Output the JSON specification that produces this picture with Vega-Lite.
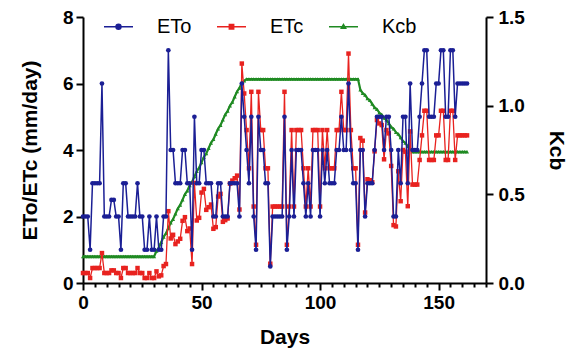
{
  "$schema": "https://vega.github.io/schema/vega-lite/v6.json",
  "width": 403,
  "height": 266,
  "autosize": {"type": "none"},
  "padding": {"left": 83, "top": 17, "right": 90, "bottom": 69},
  "background": "white",
  "config": {
    "view": {"stroke": null},
    "font": "Liberation Sans",
    "axis": {
      "domainColor": "#000", "domainWidth": 2, "tickColor": "#000", "tickWidth": 2, "tickSize": 7,
      "labelColor": "#000", "labelFont": "Liberation Sans", "labelFontWeight": "bold", "labelFontSize": 19, "labelPadding": 3,
      "titleColor": "#000", "titleFont": "Liberation Sans", "titleFontWeight": "bold", "titleFontSize": 21, "grid": false
    }
  },
  "data": {"values": [
    {"d":0,"eto":2,"etc":0.3,"kcb":0.15},{"d":1,"eto":2,"etc":0.3,"kcb":0.15},{"d":2,"eto":2,"etc":0.3,"kcb":0.15},{"d":3,"eto":1,"etc":0.15,"kcb":0.15},{"d":4,"eto":3,"etc":0.45,"kcb":0.15},{"d":5,"eto":3,"etc":0.45,"kcb":0.15},{"d":6,"eto":3,"etc":0.45,"kcb":0.15},{"d":7,"eto":3,"etc":0.45,"kcb":0.15},{"d":8,"eto":6,"etc":0.9,"kcb":0.15},{"d":9,"eto":2,"etc":0.3,"kcb":0.15},
    {"d":10,"eto":2,"etc":0.3,"kcb":0.15},{"d":11,"eto":2,"etc":0.3,"kcb":0.15},{"d":12,"eto":2.5,"etc":0.38,"kcb":0.15},{"d":13,"eto":2.5,"etc":0.38,"kcb":0.15},{"d":14,"eto":2,"etc":0.3,"kcb":0.15},{"d":15,"eto":2,"etc":0.3,"kcb":0.15},{"d":16,"eto":1,"etc":0.15,"kcb":0.15},{"d":17,"eto":3,"etc":0.45,"kcb":0.15},{"d":18,"eto":3,"etc":0.45,"kcb":0.15},{"d":19,"eto":2,"etc":0.3,"kcb":0.15},
    {"d":20,"eto":2,"etc":0.3,"kcb":0.15},{"d":21,"eto":2,"etc":0.3,"kcb":0.15},{"d":22,"eto":2,"etc":0.3,"kcb":0.15},{"d":23,"eto":3,"etc":0.45,"kcb":0.15},{"d":24,"eto":2,"etc":0.3,"kcb":0.15},{"d":25,"eto":2,"etc":0.3,"kcb":0.15},{"d":26,"eto":1,"etc":0.15,"kcb":0.15},{"d":27,"eto":1,"etc":0.15,"kcb":0.15},{"d":28,"eto":2,"etc":0.3,"kcb":0.15},{"d":29,"eto":1,"etc":0.15,"kcb":0.15},
    {"d":30,"eto":1,"etc":0.15,"kcb":0.15},{"d":31,"eto":2,"etc":0.35,"kcb":0.18},{"d":32,"eto":1,"etc":0.2,"kcb":0.2},{"d":33,"eto":1,"etc":0.23,"kcb":0.23},{"d":34,"eto":2,"etc":0.51,"kcb":0.26},{"d":35,"eto":2,"etc":0.57,"kcb":0.28},{"d":36,"eto":7,"etc":2.16,"kcb":0.31},{"d":37,"eto":4,"etc":1.34,"kcb":0.34},{"d":38,"eto":4,"etc":1.45,"kcb":0.36},{"d":39,"eto":3,"etc":1.17,"kcb":0.39},
    {"d":40,"eto":3,"etc":1.25,"kcb":0.42},{"d":41,"eto":3,"etc":1.33,"kcb":0.44},{"d":42,"eto":4,"etc":1.87,"kcb":0.47},{"d":43,"eto":4,"etc":1.98,"kcb":0.5},{"d":44,"eto":3,"etc":1.56,"kcb":0.52},{"d":45,"eto":3,"etc":1.64,"kcb":0.55},{"d":46,"eto":1,"etc":0.57,"kcb":0.57},{"d":47,"eto":5,"etc":3.01,"kcb":0.6},{"d":48,"eto":3,"etc":1.88,"kcb":0.63},{"d":49,"eto":3,"etc":1.96,"kcb":0.65},
    {"d":50,"eto":4,"etc":2.72,"kcb":0.68},{"d":51,"eto":4,"etc":2.83,"kcb":0.71},{"d":52,"eto":3,"etc":2.2,"kcb":0.73},{"d":53,"eto":3,"etc":2.28,"kcb":0.76},{"d":54,"eto":3,"etc":2.36,"kcb":0.79},{"d":55,"eto":2,"etc":1.63,"kcb":0.81},{"d":56,"eto":2,"etc":1.68,"kcb":0.84},{"d":57,"eto":3,"etc":2.6,"kcb":0.87},{"d":58,"eto":3,"etc":2.68,"kcb":0.89},{"d":59,"eto":2,"etc":1.84,"kcb":0.92},
    {"d":60,"eto":2,"etc":1.89,"kcb":0.95},{"d":61,"eto":2,"etc":1.94,"kcb":0.97},{"d":62,"eto":3,"etc":2.99,"kcb":1.0},{"d":63,"eto":3,"etc":3.08,"kcb":1.02},{"d":64,"eto":3,"etc":3.15,"kcb":1.05},{"d":65,"eto":3,"etc":3.23,"kcb":1.08},{"d":66,"eto":2,"etc":2.21,"kcb":1.1},{"d":67,"eto":6,"etc":6.6,"kcb":1.13},{"d":68,"eto":5,"etc":5.7,"kcb":1.14},{"d":69,"eto":4,"etc":4.6,"kcb":1.15},
    {"d":70,"eto":3,"etc":3.45,"kcb":1.15},{"d":71,"eto":5,"etc":5.75,"kcb":1.15},{"d":72,"eto":2,"etc":2.3,"kcb":1.15},{"d":73,"eto":1,"etc":1.15,"kcb":1.15},{"d":74,"eto":5,"etc":5.75,"kcb":1.15},{"d":75,"eto":4,"etc":4.6,"kcb":1.15},{"d":76,"eto":4,"etc":4.6,"kcb":1.15},{"d":77,"eto":3,"etc":3.45,"kcb":1.15},{"d":78,"eto":3,"etc":3.45,"kcb":1.15},{"d":79,"eto":0.5,"etc":0.58,"kcb":1.15},
    {"d":80,"eto":2,"etc":2.3,"kcb":1.15},{"d":81,"eto":2,"etc":2.3,"kcb":1.15},{"d":82,"eto":2,"etc":2.3,"kcb":1.15},{"d":83,"eto":2,"etc":2.3,"kcb":1.15},{"d":84,"eto":2,"etc":2.3,"kcb":1.15},{"d":85,"eto":5,"etc":5.75,"kcb":1.15},{"d":86,"eto":1,"etc":1.15,"kcb":1.15},{"d":87,"eto":2,"etc":2.3,"kcb":1.15},{"d":88,"eto":4,"etc":4.6,"kcb":1.15},{"d":89,"eto":2,"etc":2.3,"kcb":1.15},
    {"d":90,"eto":4,"etc":4.6,"kcb":1.15},{"d":91,"eto":4,"etc":4.6,"kcb":1.15},{"d":92,"eto":4,"etc":4.6,"kcb":1.15},{"d":93,"eto":3,"etc":3.45,"kcb":1.15},{"d":94,"eto":2,"etc":2.3,"kcb":1.15},{"d":95,"eto":3,"etc":3.45,"kcb":1.15},{"d":96,"eto":2,"etc":2.3,"kcb":1.15},{"d":97,"eto":4,"etc":4.6,"kcb":1.15},{"d":98,"eto":4,"etc":4.6,"kcb":1.15},{"d":99,"eto":4,"etc":4.6,"kcb":1.15},
    {"d":100,"eto":2,"etc":2.3,"kcb":1.15},{"d":101,"eto":4,"etc":4.6,"kcb":1.15},{"d":102,"eto":3,"etc":3.45,"kcb":1.15},{"d":103,"eto":4,"etc":4.6,"kcb":1.15},{"d":104,"eto":3,"etc":3.45,"kcb":1.15},{"d":105,"eto":3,"etc":3.45,"kcb":1.15},{"d":106,"eto":3,"etc":3.45,"kcb":1.15},{"d":107,"eto":4,"etc":4.6,"kcb":1.15},{"d":108,"eto":4,"etc":4.6,"kcb":1.15},{"d":109,"eto":5,"etc":5.75,"kcb":1.15},
    {"d":110,"eto":4,"etc":4.6,"kcb":1.15},{"d":111,"eto":4,"etc":4.6,"kcb":1.15},{"d":112,"eto":6,"etc":6.9,"kcb":1.15},{"d":113,"eto":4,"etc":4.6,"kcb":1.15},{"d":114,"eto":3,"etc":3.45,"kcb":1.15},{"d":115,"eto":3,"etc":3.45,"kcb":1.15},{"d":116,"eto":1,"etc":1.15,"kcb":1.15},{"d":117,"eto":4,"etc":4.36,"kcb":1.09},{"d":118,"eto":4,"etc":4.28,"kcb":1.07},{"d":119,"eto":2,"etc":2.12,"kcb":1.06},
    {"d":120,"eto":3,"etc":3.12,"kcb":1.04},{"d":121,"eto":3,"etc":3.09,"kcb":1.03},{"d":122,"eto":3,"etc":3.03,"kcb":1.01},{"d":123,"eto":4,"etc":3.96,"kcb":0.99},{"d":124,"eto":5,"etc":4.9,"kcb":0.98},{"d":125,"eto":5,"etc":4.8,"kcb":0.96},{"d":126,"eto":5,"etc":4.75,"kcb":0.95},{"d":127,"eto":4,"etc":3.72,"kcb":0.93},{"d":128,"eto":5,"etc":4.6,"kcb":0.92},{"d":129,"eto":5,"etc":4.5,"kcb":0.9},
    {"d":130,"eto":4,"etc":3.52,"kcb":0.88},{"d":131,"eto":2,"etc":1.74,"kcb":0.87},{"d":132,"eto":2,"etc":1.7,"kcb":0.85},{"d":133,"eto":4,"etc":3.36,"kcb":0.84},{"d":134,"eto":3,"etc":2.46,"kcb":0.82},{"d":135,"eto":5,"etc":4.0,"kcb":0.8},{"d":136,"eto":5,"etc":3.95,"kcb":0.79},{"d":137,"eto":3,"etc":2.31,"kcb":0.77},{"d":138,"eto":6,"etc":4.56,"kcb":0.76},{"d":139,"eto":4,"etc":2.96,"kcb":0.74},
    {"d":140,"eto":4,"etc":2.96,"kcb":0.74},{"d":141,"eto":4,"etc":2.96,"kcb":0.74},{"d":142,"eto":5,"etc":3.7,"kcb":0.74},{"d":143,"eto":6,"etc":4.44,"kcb":0.74},{"d":144,"eto":7,"etc":5.18,"kcb":0.74},{"d":145,"eto":7,"etc":5.18,"kcb":0.74},{"d":146,"eto":5,"etc":3.7,"kcb":0.74},{"d":147,"eto":5,"etc":3.7,"kcb":0.74},{"d":148,"eto":5,"etc":3.7,"kcb":0.74},{"d":149,"eto":6,"etc":4.44,"kcb":0.74},
    {"d":150,"eto":6,"etc":4.44,"kcb":0.74},{"d":151,"eto":7,"etc":5.18,"kcb":0.74},{"d":152,"eto":7,"etc":5.18,"kcb":0.74},{"d":153,"eto":5,"etc":3.7,"kcb":0.74},{"d":154,"eto":5,"etc":3.7,"kcb":0.74},{"d":155,"eto":7,"etc":5.18,"kcb":0.74},{"d":156,"eto":7,"etc":5.18,"kcb":0.74},{"d":157,"eto":5,"etc":3.7,"kcb":0.74},{"d":158,"eto":6,"etc":4.44,"kcb":0.74},{"d":159,"eto":6,"etc":4.44,"kcb":0.74},
    {"d":160,"eto":6,"etc":4.44,"kcb":0.74},{"d":161,"eto":6,"etc":4.44,"kcb":0.74},{"d":162,"eto":6,"etc":4.44,"kcb":0.74}
  ]},
  "encoding": {
    "x": {
      "field": "d", "type": "quantitative",
      "scale": {"domain": [0, 170], "nice": false, "zero": false},
      "axis": {
        "values": [0,5,10,15,20,25,30,35,40,45,50,55,60,65,70,75,80,85,90,95,100,105,110,115,120,125,130,135,140,145,150,155,160,165,170],
        "labelExpr": "datum.value % 50 === 0 ? datum.label : ''",
        "labelOverlap": false, "labelFlush": false,
        "tickSize": {"condition": {"test": "datum.value % 50 === 0", "value": 7}, "value": 4},
        "title": "Days", "titlePadding": 14
      }
    }
  },
  "layer": [
    {
      "encoding": {
        "y": {
          "field": "kcb", "type": "quantitative",
          "scale": {"domain": [0, 1.5], "nice": false},
          "axis": {"orient": "right", "values": [0, 0.5, 1, 1.5], "format": ".1f", "title": "Kcb", "titleAngle": 90, "titlePadding": 21, "labelPadding": 5}
        }
      },
      "layer": [
        {"mark": {"type": "line", "strokeWidth": 2.2}, "encoding": {"color": {"datum": "Kcb", "type": "nominal"}}},
        {"mark": {"type": "point", "shape": "triangle-up", "filled": true, "size": 16, "opacity": 1}, "encoding": {"color": {"datum": "Kcb", "type": "nominal"}}}
      ]
    },
    {
      "layer": [
        {
          "mark": {"type": "line", "strokeWidth": 1.3},
          "encoding": {
            "y": {
              "field": "etc", "type": "quantitative",
              "scale": {"domain": [0, 8], "nice": false},
              "axis": {"orient": "left", "values": [0, 2, 4, 6, 8], "title": "ETo/ETc (mm/day)", "titlePadding": 22}
            },
            "color": {
              "datum": "ETc", "type": "nominal",
              "scale": {"domain": ["ETo", "ETc", "Kcb"], "range": ["#1b1f95", "#e8221f", "#1f8a22"]},
              "legend": {
                "orient": "none", "legendX": 20, "legendY": -6, "direction": "horizontal", "title": null,
                "symbolType": "M-1,0H1M-0.17,0A0.17,0.17,0,1,1,0.17,0A0.17,0.17,0,1,1,-0.17,0Z",
                "symbolSize": 841, "symbolStrokeWidth": 1.5, "symbolOpacity": 1,
                "labelFont": "Liberation Sans", "labelFontSize": 20, "labelColor": "#000", "labelOffset": 23,
                "columnPadding": 22, "padding": 0,
                "encoding": {
                  "symbols": {
                    "shape": {"value": {"expr": "datum.value === 'ETo' ? 'M-1,0H1M-0.17,0A0.17,0.17,0,1,1,0.17,0A0.17,0.17,0,1,1,-0.17,0Z' : datum.value === 'ETc' ? 'M-1,0H1M-0.15,-0.15H0.15V0.15H-0.15Z' : 'M-1,0H1M0,-0.15L0.15,0.11L-0.15,0.11Z'"}},
                    "fill": {"value": {"expr": "scale('color', datum.value)"}},
                    "stroke": {"value": {"expr": "scale('color', datum.value)"}},
                    "strokeWidth": {"value": 1.5},
                    "opacity": {"value": 1}
                  }
                }
              }
            }
          }
        },
        {
          "mark": {"type": "point", "shape": "square", "filled": true, "size": 20, "opacity": 1},
          "encoding": {"y": {"field": "etc", "type": "quantitative"}, "color": {"datum": "ETc", "type": "nominal"}}
        },
        {
          "mark": {"type": "line", "strokeWidth": 1.5},
          "encoding": {"y": {"field": "eto", "type": "quantitative"}, "color": {"datum": "ETo", "type": "nominal"}}
        },
        {
          "mark": {"type": "point", "shape": "circle", "filled": true, "size": 22, "opacity": 1},
          "encoding": {"y": {"field": "eto", "type": "quantitative"}, "color": {"datum": "ETo", "type": "nominal"}}
        }
      ]
    }
  ],
  "resolve": {"scale": {"y": "independent"}}
}
